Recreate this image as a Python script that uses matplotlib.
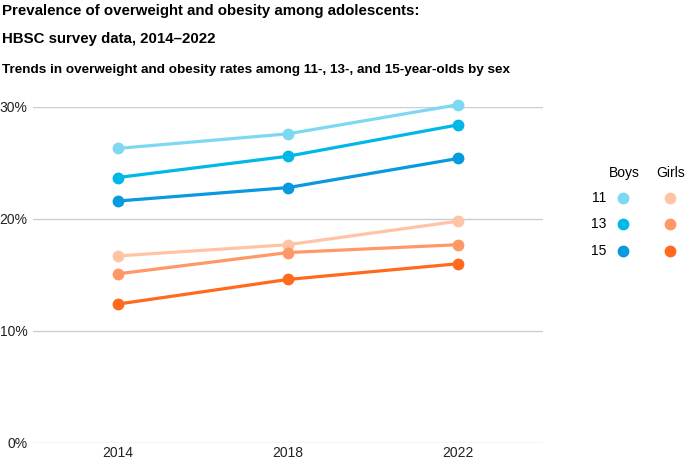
import matplotlib.pyplot as plt
from matplotlib.lines import Line2D

plt.rcParams['font.family'] = ['Liberation Sans', 'DejaVu Sans']

years = [2014, 2018, 2022]
ages = ["11", "13", "15"]

# overweight + obesity rates (%)
boys_11 = [26.3, 27.6, 30.2]
boys_13 = [23.7, 25.6, 28.4]
boys_15 = [21.6, 22.8, 25.4]
girls_11 = [16.7, 17.7, 19.8]
girls_13 = [15.1, 17.0, 17.7]
girls_15 = [12.4, 14.6, 16.0]

boys_colors = ["#7dd8f2", "#00b8e6", "#0899de"]
girls_colors = ["#ffc3a6", "#ff9766", "#ff6a1c"]

fig = plt.figure(figsize=(6.85, 4.59), dpi=100)
ax = fig.add_axes([33 / 685, 0.035, 510 / 685, 0.732])

for vals, col in zip([boys_11, boys_13, boys_15], boys_colors):
    ax.plot(years, vals, color=col, lw=2.3, marker="o", ms=7.5, clip_on=False, zorder=3)
for vals, col in zip([girls_11, girls_13, girls_15], girls_colors):
    ax.plot(years, vals, color=col, lw=2.3, marker="o", ms=7.5, clip_on=False, zorder=3)

ax.set_xlim(2012.0, 2024.0)
ax.set_ylim(0, 30)
ax.set_yticks([0, 10, 20, 30])
ax.set_yticklabels(["0%", "10%", "20%", "30%"])
ax.set_xticks(years)
ax.grid(axis="y", color="#c9cdd9", lw=1)
ax.set_axisbelow(True)
for s in ax.spines.values():
    s.set_visible(False)
ax.tick_params(length=0, labelsize=10, colors="#222222")
ax.tick_params(axis="y", pad=4)
ax.tick_params(axis="x", pad=2)

# titles
fig.text(0.003, 0.991, "Prevalence of overweight and obesity among adolescents:",
         fontsize=10.8, fontweight="bold", va="top", ha="left")
fig.text(0.003, 0.931, "HBSC survey data, 2014\u20132022",
         fontsize=10.8, fontweight="bold", va="top", ha="left")
fig.text(0.003, 0.860, "Trends in overweight and obesity rates among 11-, 13-, and 15-year-olds by sex",
         fontsize=9.7, fontweight="bold", va="top", ha="left")

# legend
fig.text(624 / 685, 1 - 173 / 459, "Boys", fontsize=10, ha="center", va="center")
fig.text(671 / 685, 1 - 173 / 459, "Girls", fontsize=10, ha="center", va="center")
for i, age in enumerate(ages):
    y = 1 - (198 + 26.5 * i) / 459
    fig.text(606 / 685, y, age, fontsize=10, ha="right", va="center")
    fig.add_artist(Line2D([623 / 685], [y], marker="o", ms=7.5, color=boys_colors[i],
                          transform=fig.transFigure))
    fig.add_artist(Line2D([670 / 685], [y], marker="o", ms=7.5, color=girls_colors[i],
                          transform=fig.transFigure))

fig.savefig("out.png", dpi=100)
